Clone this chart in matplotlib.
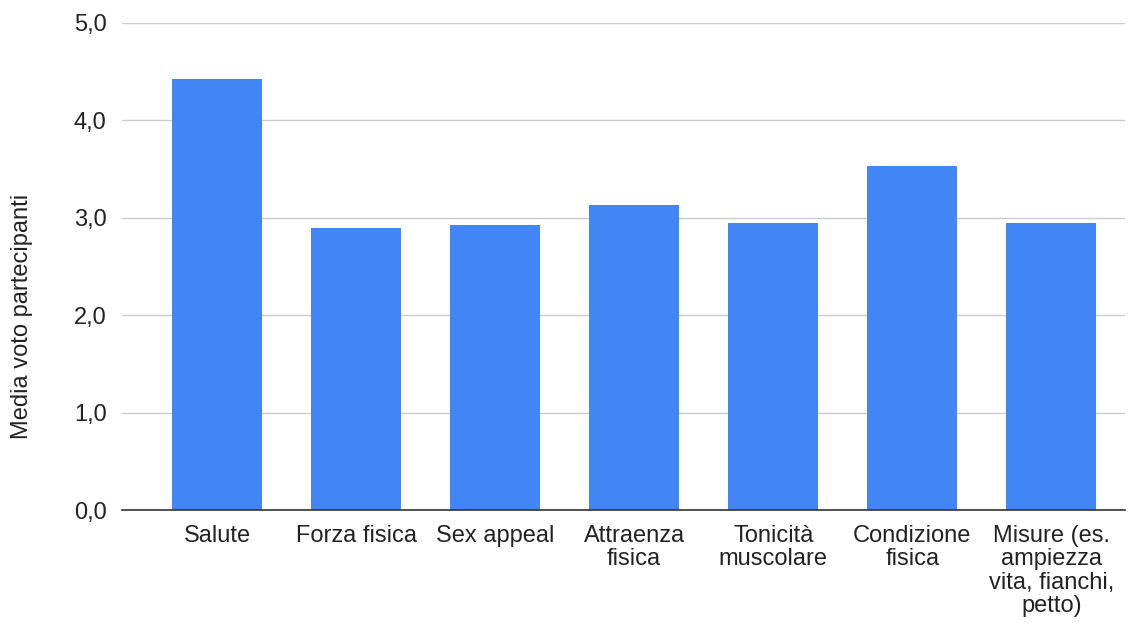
import matplotlib as mpl
mpl.use('Agg')
import matplotlib.pyplot as plt
from matplotlib.ticker import FuncFormatter

categories = ['Salute', 'Forza fisica', 'Sex appeal', 'Attraenza\nfisica',
              'Tonicità\nmuscolare', 'Condizione\nfisica',
              'Misure (es.\nampiezza\nvita, fianchi,\npetto)']
values = [4.42, 2.90, 2.93, 3.13, 2.95, 3.53, 2.95]
yticks = [0, 1, 2, 3, 4, 5]

plt.rcParams['font.family'] = ['Liberation Sans', 'DejaVu Sans']

fig = plt.figure(figsize=(11.38, 6.23), dpi=100)
ax = fig.add_axes([122/1138, 1-510/623, (1125-122)/1138, (510-23)/623])

x = list(range(len(categories)))
ax.bar(x, values, width=0.65, color='#4285F4', zorder=3)

ax.set_xlim(-0.683, 6.53)
ax.set_ylim(0, 5)
ax.set_yticks(yticks)
ax.yaxis.set_major_formatter(FuncFormatter(lambda v, p: ('%.1f' % v).replace('.', ',')))
ax.set_xticks(x)
ax.set_xticklabels(categories, fontsize=17, color='#222222', linespacing=1.07, va='top')
ax.tick_params(axis='y', labelsize=17, length=0, pad=11)
ax.tick_params(axis='x', length=0, pad=11)
for lbl in ax.get_yticklabels():
    lbl.set_color('#222222')

ax.grid(axis='y', color='#cccccc', linewidth=1, zorder=0)
for s in ['top', 'right', 'left']:
    ax.spines[s].set_visible(False)
ax.spines['bottom'].set_color('#333333')
ax.spines['bottom'].set_linewidth(1.2)
ax.spines['bottom'].set_zorder(4)

# y label is centred on the whole chart area (bars + category labels)
fig.text(22/1138, 1-316/623, 'Media voto partecipanti', fontsize=17, color='#222222',
         rotation=90, ha='center', va='center')

fig.savefig('out.png', dpi=100)
